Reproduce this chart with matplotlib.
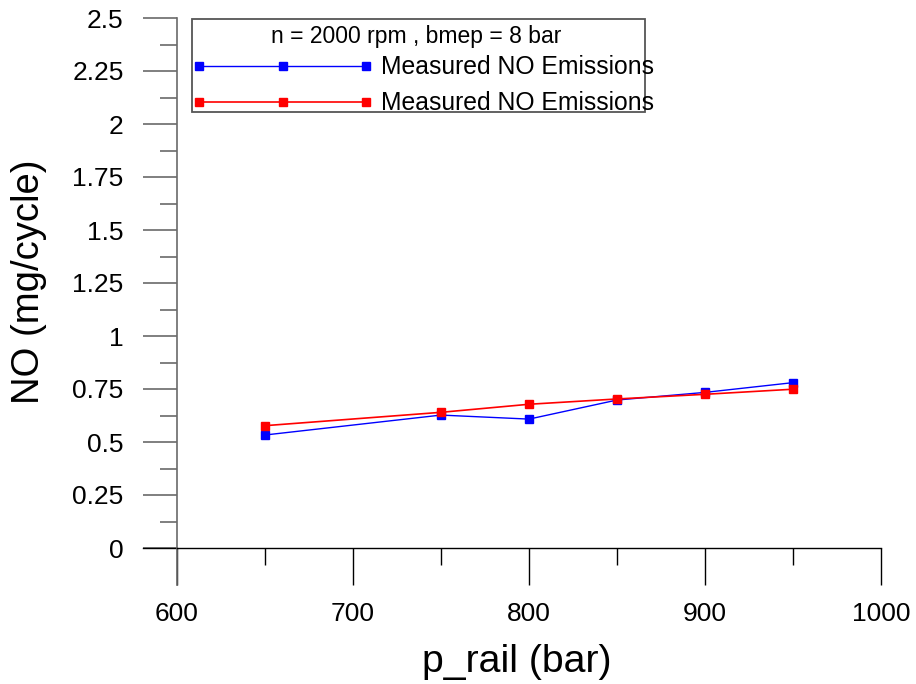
import matplotlib
matplotlib.use('Agg')
import matplotlib.pyplot as plt
from matplotlib.lines import Line2D
from matplotlib.patches import Rectangle
from matplotlib.ticker import FixedLocator, FixedFormatter, NullFormatter
import matplotlib.transforms as mtransforms

# ---- data ----
p_rail = [650, 750, 800, 850, 900, 950]
no_blue = [0.533, 0.627, 0.608, 0.698, 0.734, 0.780]
no_red = [0.577, 0.640, 0.678, 0.703, 0.725, 0.749]
x_ticks = [600, 700, 800, 900, 1000]
x_minor = [650, 750, 850, 950]
y_ticks = [0, 0.25, 0.5, 0.75, 1.0, 1.25, 1.5, 1.75, 2.0, 2.25, 2.5]
y_tick_labels = ['0', '0.25', '0.5', '0.75', '1', '1.25', '1.5', '1.75', '2', '2.25', '2.5']
y_minor = [0.125, 0.375, 0.625, 0.875, 1.125, 1.375, 1.625, 1.875, 2.125, 2.375]
legend_title = "n = 2000 rpm , bmep = 8 bar"
series_labels = ["Measured NO Emissions", "Measured NO Emissions"]
x_label = "p_rail (bar)"
y_label = "NO (mg/cycle)"

plt.rcParams['font.family'] = ['Liberation Sans', 'DejaVu Sans']

W, H = 916, 684
fig = plt.figure(figsize=(W / 100, H / 100), dpi=100)
ax = fig.add_axes([177 / W, 1 - 585 / H, (881 - 177) / W, (585 - 18) / H])
ax.set_xlim(600, 1000)
ax.set_ylim(-37 / 212, 2.5)

for s in ['top', 'right']:
    ax.spines[s].set_visible(False)
ax.spines['bottom'].set_position(('data', 0))
ax.spines['bottom'].set_color('black')
ax.spines['bottom'].set_linewidth(1.0)
ax.spines['left'].set_color('#6a6a6a')
ax.spines['left'].set_linewidth(1.2)

# extension of the x axis line to the left of the y axis
trans = mtransforms.blended_transform_factory(ax.transAxes, ax.transData)
ax.plot([-34 / 704, 0], [0, 0], transform=trans, color='black', lw=1.0, clip_on=False)

ax.xaxis.set_major_locator(FixedLocator(x_ticks))
ax.xaxis.set_minor_locator(FixedLocator(x_minor))
ax.xaxis.set_minor_formatter(NullFormatter())
ax.yaxis.set_major_locator(FixedLocator(y_ticks))
ax.yaxis.set_major_formatter(FixedFormatter(y_tick_labels))
ax.yaxis.set_minor_locator(FixedLocator(y_minor))
ax.yaxis.set_minor_formatter(NullFormatter())

ax.tick_params(axis='x', which='major', direction='out', length=26.6, width=1.0,
               color='black', labelsize=19, pad=12.5)
ax.tick_params(axis='x', which='minor', direction='out', length=12.2, width=1.0, color='black')
ax.tick_params(axis='y', which='major', direction='out', length=24.5, width=1.2,
               color='#6a6a6a', labelsize=19, pad=14)
ax.tick_params(axis='y', which='minor', direction='out', length=12.2, width=1.2, color='#6a6a6a')

ax.plot(p_rail, no_blue, color='blue', lw=1.0, marker='s', markersize=6, clip_on=False)
ax.plot(p_rail, no_red, color='red', lw=1.2, marker='s', markersize=6, clip_on=False)

fig.text(517 / W, 1 - 662 / H, x_label, ha='center', va='center', fontsize=28.3)
fig.text(29 / W, 1 - 282 / H, y_label, ha='center', va='center', rotation=90, fontsize=27.5)

# legend box
fig.add_artist(Rectangle((192 / W, 1 - 112 / H), (645 - 192) / W, (112 - 19) / H,
                         transform=fig.transFigure, fill=False, edgecolor='#555555', lw=1.3))
fig.text(416 / W, 1 - 37 / H, legend_title, ha='center', va='center', fontsize=16.5)
leg_x = [199 / W, 283 / W, 366 / W]
for ypix, col, lw, lab in [(66, 'blue', 1.0, series_labels[0]), (102, 'red', 1.2, series_labels[1])]:
    fig.add_artist(Line2D(leg_x, [1 - ypix / H] * 3, transform=fig.transFigure, color=col,
                          lw=lw, marker='s', markersize=6))
    fig.text(381 / W, 1 - (ypix + 1) / H, lab, ha='left', va='center', fontsize=17.8)

fig.savefig('out.png', dpi=100)
